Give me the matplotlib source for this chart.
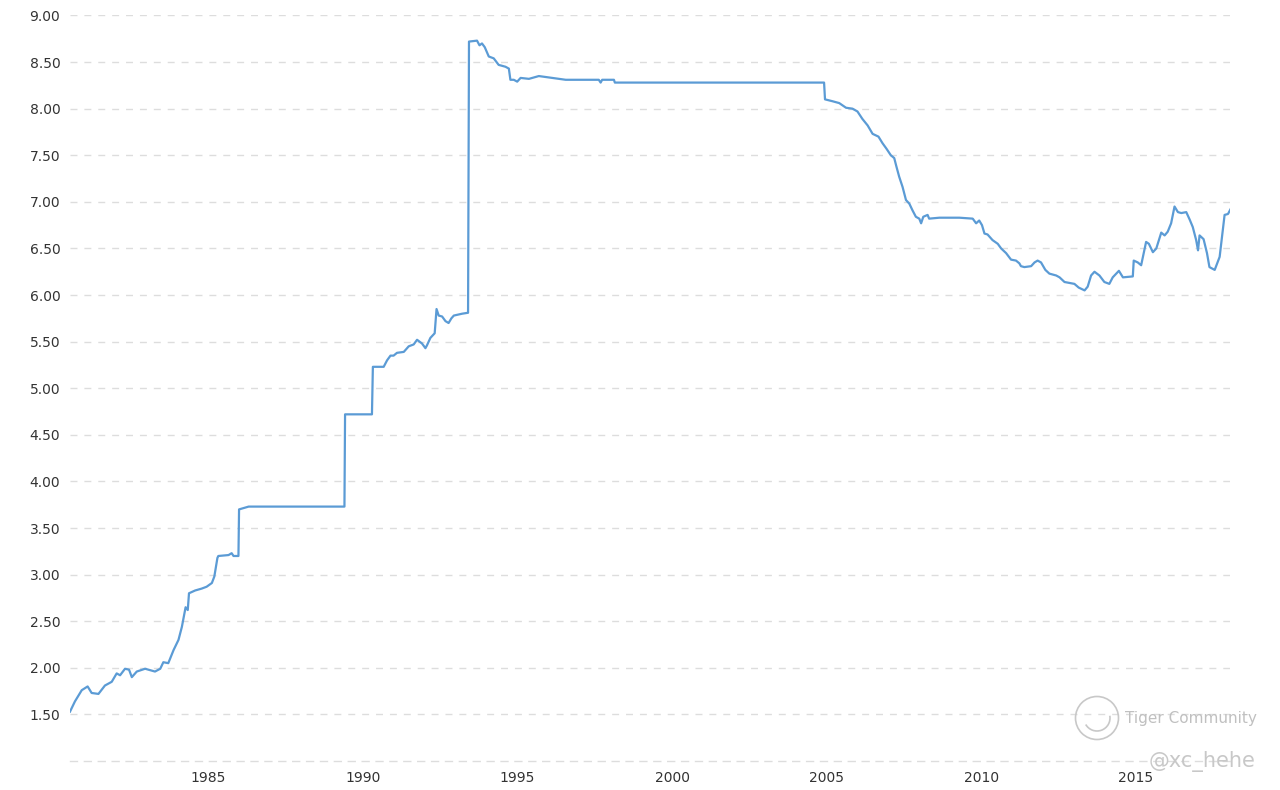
import matplotlib
matplotlib.use("Agg")
import matplotlib.pyplot as plt
from matplotlib.patches import Circle, Arc

# USD/CNY exchange rate (decimal years)
years = [
    1980.52, 1980.68, 1980.90, 1981.09, 1981.22, 1981.44, 1981.65, 1981.87,
    1982.03, 1982.14, 1982.30, 1982.43, 1982.52, 1982.68, 1982.95, 1983.27,
    1983.44, 1983.54, 1983.70, 1983.87, 1984.03, 1984.14, 1984.22, 1984.26,
    1984.33, 1984.37, 1984.57, 1984.78, 1984.94, 1985.11, 1985.19, 1985.24,
    1985.29, 1985.32, 1985.65, 1985.75, 1985.81, 1985.92, 1985.97, 1985.99,
    1986.19, 1986.30, 1989.40, 1989.42, 1990.29, 1990.32, 1990.67, 1990.78,
    1990.89, 1990.99, 1991.10, 1991.32, 1991.48, 1991.64, 1991.75, 1991.91,
    1992.02, 1992.07, 1992.18, 1992.32, 1992.38, 1992.45, 1992.56, 1992.67,
    1992.77, 1992.86, 1992.94, 1993.21, 1993.40, 1993.43, 1993.69, 1993.77,
    1993.85, 1993.94, 1994.07, 1994.23, 1994.39, 1994.61, 1994.72, 1994.77,
    1994.88, 1994.99, 1995.10, 1995.37, 1995.69, 1996.12, 1996.56, 1996.99,
    1997.63, 1997.69, 1997.74, 1998.12, 1998.15, 2004.92, 2004.95, 2005.19,
    2005.41, 2005.63, 2005.84, 2006.00, 2006.16, 2006.33, 2006.49, 2006.68,
    2006.81, 2006.94, 2007.08, 2007.19, 2007.26, 2007.35, 2007.46, 2007.57,
    2007.68, 2007.78, 2007.89, 2008.00, 2008.06, 2008.13, 2008.27, 2008.32,
    2008.65, 2009.30, 2009.73, 2009.84, 2009.94, 2010.03, 2010.11, 2010.21,
    2010.37, 2010.54, 2010.65, 2010.81, 2010.97, 2011.13, 2011.24, 2011.29,
    2011.40, 2011.62, 2011.73, 2011.83, 2011.94, 2012.08, 2012.21, 2012.43,
    2012.54, 2012.70, 2012.86, 2013.02, 2013.16, 2013.35, 2013.45, 2013.56,
    2013.67, 2013.83, 2013.99, 2014.15, 2014.26, 2014.46, 2014.59, 2014.91,
    2014.94, 2015.07, 2015.18, 2015.34, 2015.43, 2015.56, 2015.67, 2015.83,
    2015.94, 2016.04, 2016.15, 2016.26, 2016.37, 2016.48, 2016.64, 2016.75,
    2016.85, 2016.96, 2017.02, 2017.07, 2017.20, 2017.31, 2017.39, 2017.56,
    2017.72, 2017.81, 2017.88, 2017.99, 2018.07,
]
rates = [
    1.53, 1.64, 1.76, 1.80, 1.73, 1.72, 1.81, 1.85,
    1.94, 1.92, 1.99, 1.98, 1.90, 1.96, 1.99, 1.96,
    1.99, 2.06, 2.05, 2.19, 2.30, 2.44, 2.58, 2.65,
    2.62, 2.80, 2.83, 2.85, 2.87, 2.91, 2.98, 3.08,
    3.18, 3.20, 3.21, 3.23, 3.20, 3.20, 3.20, 3.70,
    3.72, 3.73, 3.73, 4.72, 4.72, 5.23, 5.23, 5.30,
    5.35, 5.35, 5.38, 5.39, 5.45, 5.47, 5.52, 5.48,
    5.43, 5.46, 5.54, 5.59, 5.85, 5.78, 5.77, 5.72,
    5.70, 5.75, 5.78, 5.80, 5.81, 8.72, 8.73, 8.68,
    8.70, 8.66, 8.56, 8.54, 8.47, 8.45, 8.43, 8.31,
    8.31, 8.29, 8.33, 8.32, 8.35, 8.33, 8.31, 8.31,
    8.31, 8.28, 8.31, 8.31, 8.28, 8.28, 8.10, 8.08,
    8.06, 8.01, 8.00, 7.97, 7.89, 7.82, 7.73, 7.70,
    7.63, 7.57, 7.50, 7.47, 7.38, 7.27, 7.16, 7.02,
    6.98, 6.91, 6.84, 6.82, 6.77, 6.84, 6.86, 6.82,
    6.83, 6.83, 6.82, 6.77, 6.80, 6.75, 6.66, 6.65,
    6.59, 6.55, 6.50, 6.45, 6.38, 6.37, 6.34, 6.31,
    6.30, 6.31, 6.35, 6.37, 6.35, 6.27, 6.23, 6.21,
    6.19, 6.14, 6.13, 6.12, 6.08, 6.05, 6.09, 6.21,
    6.25, 6.21, 6.14, 6.12, 6.19, 6.26, 6.19, 6.20,
    6.37, 6.35, 6.32, 6.57, 6.55, 6.46, 6.50, 6.67,
    6.64, 6.68, 6.77, 6.95, 6.89, 6.88, 6.89, 6.81,
    6.73, 6.59, 6.48, 6.64, 6.60, 6.45, 6.30, 6.27,
    6.41, 6.66, 6.86, 6.87, 6.92,
]

xtick_years = [1985, 1990, 1995, 2000, 2005, 2010, 2015]
ytick_values = [1.5, 2.0, 2.5, 3.0, 3.5, 4.0, 4.5, 5.0, 5.5, 6.0, 6.5, 7.0, 7.5, 8.0, 8.5, 9.0]

fig = plt.figure(figsize=(12.8, 7.9), dpi=100)
ax = fig.add_axes([0.0547, 0.0367, 0.9066, 0.9437])

ax.plot(years, rates, color="#5b9bd5", linewidth=1.6, solid_joinstyle="round")

ax.set_xlim(years[0], years[-1])
ax.set_ylim(1.0, 9.0)

ax.set_xticks(xtick_years)
ax.set_xticklabels([str(y) for y in xtick_years])
ax.set_yticks(ytick_values)
ax.set_yticklabels([f"{v:.2f}" for v in ytick_values])
ax.tick_params(axis="both", length=0, labelsize=10, labelcolor="#333333")
ax.tick_params(axis="x", pad=7)
ax.tick_params(axis="y", pad=7)

ax.grid(axis="y", color="#dddddd", linestyle=(0, (5, 5)), linewidth=1)
ax.set_axisbelow(True)
for side in ["top", "right", "left"]:
    ax.spines[side].set_visible(False)
ax.spines["bottom"].set_color("#dddddd")
ax.spines["bottom"].set_linestyle((0, (5, 5)))
ax.spines["bottom"].set_linewidth(1)

# watermark (logo drawn in inches so it stays round)
logo_xy = (10.97, 0.72)
fig.add_artist(Circle(logo_xy, 0.215, transform=fig.dpi_scale_trans,
                      fill=False, edgecolor="#c8c8c8", linewidth=1.2))
fig.add_artist(Arc(logo_xy, 0.26, 0.26, angle=20, theta1=190, theta2=350,
                   transform=fig.dpi_scale_trans, edgecolor="#c8c8c8", linewidth=1.2))
fig.text(1125 / 1280, 1 - 719 / 790, "Tiger Community", fontsize=11, color="#c0c0c0",
         va="center", ha="left")
fig.text(1255 / 1280, 1 - 762 / 790, "@xc_hehe", fontsize=15, color="#c8c8c8",
         va="center", ha="right")

fig.savefig("out.png", dpi=100)
